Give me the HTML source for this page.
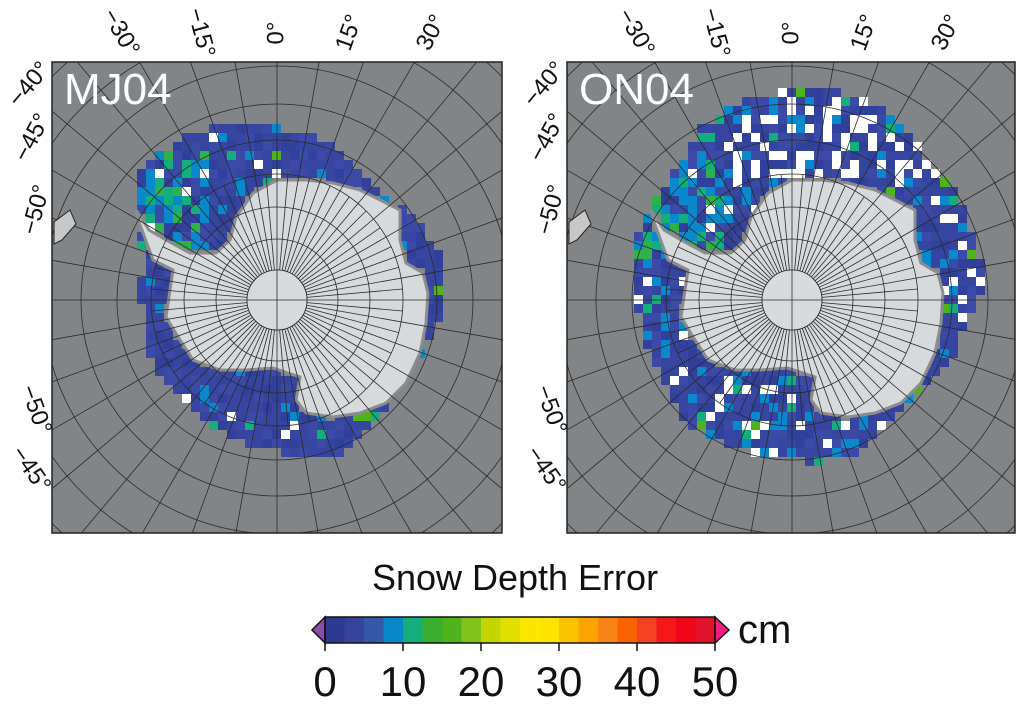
<!DOCTYPE html>
<html><head><meta charset="utf-8">
<style>
html,body{margin:0;padding:0;background:#fff;width:1024px;height:710px;overflow:hidden}
svg{display:block}
svg text{font-family:"Liberation Sans",sans-serif}
</style></head>
<body>
<svg id="fig" width="1024" height="710" viewBox="0 0 1024 710">
<defs>
<clipPath id="clipL"><rect x="52" y="62" width="450" height="471"/></clipPath>
<clipPath id="clipR"><rect x="567" y="62" width="448" height="471"/></clipPath>
</defs>
<g id="panels"></g>
<g id="cbar"></g>
<text x="515" y="590" font-size="36" text-anchor="middle" fill="#111">Snow Depth Error</text>
<text x="738" y="643" font-size="40" fill="#111">cm</text>
</svg>
<script>
// colorbar data
const cbTicks = [0,10,20,30,40,50];
const cbColors = ["#2e3a8f","#36439c","#3457a6","#0a88cc","#14ad7c","#3aae2e","#4fb31c","#82c21a","#c5d500","#e0df00","#fbe700","#fde300","#fcc400","#fba300","#f98516","#f86300","#f24222","#f41818","#ef0616","#e0122a"];
const cbMin = 0, cbMax = 50;

const NS="http://www.w3.org/2000/svg";
function mk(tag, attrs, parent){const e=document.createElementNS(NS,tag);for(const k in attrs)e.setAttribute(k,attrs[k]);if(parent)parent.appendChild(e);return e;}

const continent=[[0,-120],[-24,-107],[-41,-83],[-47,-60],[-61,-47],[-87,-47],[-111,-60],[-128,-70],[-141,-90],[-138,-78],[-124,-40],[-104,-30],[-107,-10],[-111,17],[-97,40],[-84,60],[-57,70],[-31,70],[-4,68],[23,77],[19,100],[29,113],[56,117],[83,113],[109,103],[129,83],[143,53],[149,23],[151,-7],[146,-27],[129,-37],[123,-60],[123,-90],[109,-97],[83,-110],[56,-117],[29,-120]];
const iceL=[[0,-173],[-51,-177],[-97,-163],[-137,-127],[-141,-87],[-134,-40],[-137,-10],[-131,33],[-124,73],[-97,100],[-77,117],[-37,143],[3,153],[56,160],[83,133],[109,110],[129,77],[149,50],[169,0],[163,-47],[133,-90],[96,-110],[69,-147],[29,-167]];
const iceR=[[0,-210],[-51,-200],[-91,-173],[-127,-113],[-156,-67],[-156,0],[-147,43],[-117,107],[-94,133],[-37,153],[23,163],[59,157],[83,133],[116,107],[163,60],[176,17],[196,-23],[183,-53],[173,-87],[156,-120],[123,-157],[93,-193],[46,-210]];

function pip(x,y,poly){let c=false;for(let i=0,j=poly.length-1;i<poly.length;j=i++){const [xi,yi]=poly[i],[xj,yj]=poly[j];if(((yi>y)!=(yj>y))&&(x<(xj-xi)*(y-yi)/(yj-yi)+xi))c=!c;}return c;}
function hash(a,b,s){const v=Math.sin(a*127.1+b*311.7+s*74.7)*43758.5453;return v-Math.floor(v);}

const panels=document.getElementById('panels');
const radii=[30,61,93,126,160,196,234,274,317,362,410];
function drawPanel(px,py,w,h,cx,cy,ice,label,clip,seed,name){
  const g=mk('g',{'clip-path':'url(#'+clip+')'},panels);
  
  
  mk('rect',{x:px,y:py,width:w,height:h,fill:'#818587'},g);
  const cg=mk('g',{},g);
  
  
  const cs=9;
  for(let y=cy-230;y<cy+230;y+=cs){for(let x=cx-230;x<cx+230;x+=cs){
    const dx=x+cs/2-cx, dy=y+cs/2-cy;
    if(!pip(dx,dy,ice)) continue;
    if(pip(dx,dy,continent)) continue;
    const r=hash(x,y,seed), r2=hash(y,x,seed+3);
    let col;
    const weddell=(dx<-70&&dy<-40&&dy>-150);
    const north=(seed>1&&dy<-120&&dx>-60);
    if(north&&r<0.3) col='#ffffff';
    else if(r<(seed>1?0.09:0.025)) col='#ffffff';
    else if(weddell&&r2<0.3) col=(r2<0.1?'#2fb14a':'#14ad7c');
    else if(weddell&&r2<0.6) col='#0a88cc';
    else if(r2<(seed>1?0.14:0.07)) col='#0a88cc';
    else if(r2<(seed>1?0.18:0.09)) col='#14ad7c';
    else if(r2<(seed>1?0.2:0.1)) col='#4fb31c';
    else col=(r2<0.55?'#3646a0':(r2<0.8?'#3a4aa6':'#31409a'));
    const c=mk('rect',{x:x,y:y,width:cs,height:cs,fill:col},cg);
    
    
  }}
  const pts=continent.map(p=>(cx+p[0])+','+(cy+p[1])).join(' ');
  const cont=mk('polygon',{points:pts,fill:'#d6dadc',stroke:'#8c8c8c','stroke-width':'3'},g);
  
  
  const gg=mk('g',{stroke:'#2a2a2a','stroke-width':'0.8',fill:'none'},g);
  
  
  radii.forEach(r=>mk('circle',{cx:cx,cy:cy,r:r},gg));
  for(let a=0;a<360;a+=5){const t=a*Math.PI/180;const r0=30, r1=(a%10===0)?500:126;
    mk('line',{x1:cx+r0*Math.cos(t),y1:cy+r0*Math.sin(t),x2:cx+r1*Math.cos(t),y2:cy+r1*Math.sin(t)},gg);}
  mk('circle',{cx:cx,cy:cy,r:30,fill:'#d6dadc',stroke:'#2a2a2a','stroke-width':'0.8'},g);
  mk('line',{x1:cx-30,y1:cy,x2:cx+30,y2:cy,stroke:'#2a2a2a','stroke-width':'0.8'},g);
  mk('line',{x1:cx,y1:cy-30,x2:cx,y2:cy+30,stroke:'#2a2a2a','stroke-width':'0.8'},g);
  mk('polygon',{points:(px+2)+','+(py+160)+' '+(px+18)+','+(py+148)+' '+(px+24)+','+(py+162)+' '+(px+10)+','+(py+178)+' '+(px+2)+','+(py+182),fill:'#c8c8c8',stroke:'#222','stroke-width':'1'},g);
  const fr=mk('rect',{x:px,y:py,width:w,height:h,fill:'none',stroke:'#222','stroke-width':'1.5'},panels);
  
  
  const t=mk('text',{x:px+12,y:py+42,'font-size':'44',fill:'#fff'},panels);
  t.textContent=label;
  
  
  const lons=[["−30°",-157,60],["−15°",-77,75],["0°",0,-90],["15°",73,-70],["30°",155,-62]];
  lons.forEach(l=>{const lx=cx+l[1], ly=33;
    const tt=mk('text',{x:lx,y:ly,'font-size':'24',fill:'#111','text-anchor':'middle','dominant-baseline':'middle',transform:'rotate('+l[2]+' '+lx+' '+ly+')'},panels);
    tt.textContent=l[0];
    
    });
  const lats=[["−40°",30,85,-50],["−45°",33,138,-62],["−50°",37,210,-75],["−50°",35,410,70],["−45°",30,470,55]];
  lats.forEach(l=>{const lx=px-52+l[1], ly=l[2];
    const tt=mk('text',{x:lx,y:ly,'font-size':'24',fill:'#111','text-anchor':'middle','dominant-baseline':'middle',transform:'rotate('+l[3]+' '+lx+' '+ly+')'},panels);
    tt.textContent=l[0];
    
    });
}
drawPanel(52,62,450,471,277,300,iceL,'MJ04','clipL',1,'panel-mj04');
drawPanel(567,62,448,471,792,300,iceR,'ON04','clipR',2,'panel-on04');

const cb=document.getElementById('cbar');
const X0=325,X1=715,Y0=617,Y1=643;
const xs=v=>X0+(v-cbMin)/(cbMax-cbMin)*(X1-X0);
const step=(cbMax-cbMin)/cbColors.length;
cbColors.forEach((c,i)=>{const r=mk('rect',{x:xs(cbMin+i*step),y:Y0,width:xs(cbMin+(i+1)*step)-xs(cbMin+i*step)+0.5,height:Y1-Y0,fill:c},cb);
  
  });
const lt=mk('polygon',{points:X0+','+Y0+' '+(X0-13)+','+((Y0+Y1)/2)+' '+X0+','+Y1,fill:'#8a4fa6',stroke:'#111','stroke-width':'1.5'},cb);


const rt=mk('polygon',{points:X1+','+Y0+' '+(X1+14)+','+((Y0+Y1)/2)+' '+X1+','+Y1,fill:'#f01d7c',stroke:'#111','stroke-width':'1.5'},cb);


mk('rect',{x:X0,y:Y0,width:X1-X0,height:Y1-Y0,fill:'none',stroke:'#111','stroke-width':'1.5'},cb);
cbTicks.forEach(v=>{mk('line',{x1:xs(v),y1:Y1,x2:xs(v),y2:Y1+8,stroke:'#111','stroke-width':'1.5'},cb);
  const t=mk('text',{x:xs(v),y:696,'font-size':'42','text-anchor':'middle',fill:'#111'},cb);
  t.textContent=v;
  
  });
</script>
</body></html>
